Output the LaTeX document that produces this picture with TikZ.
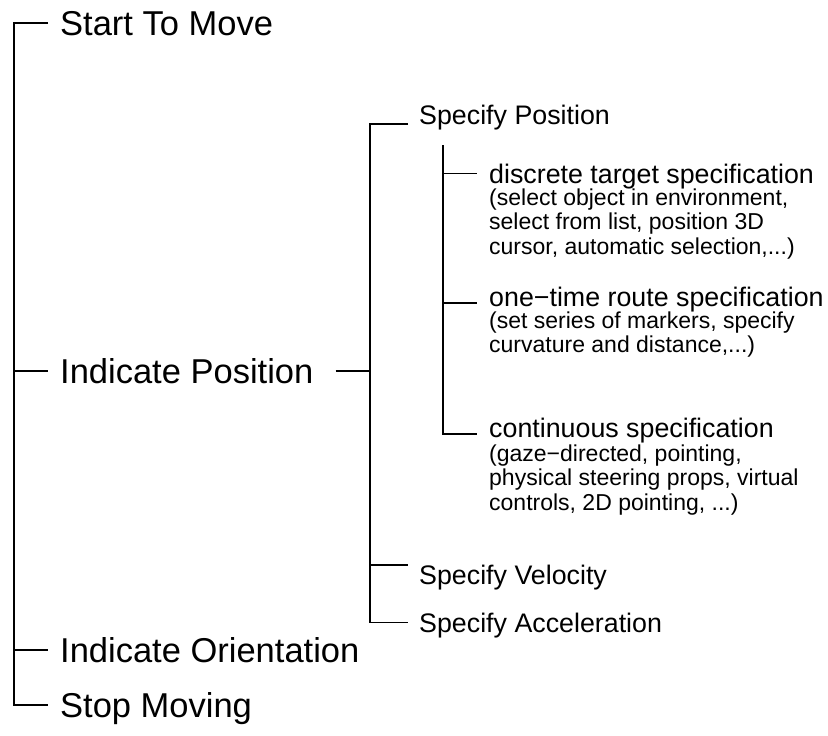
\documentclass[tikz,border=0pt]{standalone}
\usepackage{fontspec}
\setmainfont{Liberation Sans}

\tikzset{
	branch/.style={line width=1.8pt},
	topic/.style={font=\fontsize{34.5}{40}\selectfont, inner xsep=12pt, inner ysep=0pt, text height=24.8pt, text depth=0pt, anchor=base west},
	task/.style={font=\fontsize{26.8}{32}\selectfont, inner xsep=11pt, inner ysep=0pt, text height=19.2pt, text depth=0pt, anchor=base west},
	way/.style={task, inner xsep=12pt},
	note/.style={font=\fontsize{23}{24.6}\selectfont, inner xsep=12pt, inner ysep=0pt, align=left, anchor=north west}
}

\begin{document}
\begin{tikzpicture}[x=1pt,y=-1pt]
	\useasboundingbox (0,0) rectangle (828,736);

	\node[topic] (start) at (48,35) {Start To Move};
	\node[topic] (ipos) at (48,383) {Indicate Position};
	\node[topic] (iori) at (48,662) {Indicate Orientation};
	\node[topic] (stop) at (48,717) {Stop Moving};

	\node[task] (spos) at (408,124) {Specify Position};
	\node[task] (svel) at (408,584) {Specify Velocity};
	\node[task] (sacc) at (408,632) {Specify Acceleration};

	\node[way] (disc) at (477,183) {discrete target specification};
	\node[note] (disc-note) at ([yshift=-5pt]disc.south west) {(select object in environment,\\select from list, position 3D\\cursor, automatic selection,...)};
	\node[way] (once) at (477,306) {one−time route specification};
	\node[note] (once-note) at ([yshift=-5pt]once.south west) {(set series of markers, specify\\curvature and distance,...)};
	\node[way] (cont) at (477,437) {continuous specification};
	\node[note] (cont-note) at ([yshift=-7pt]cont.south west) {(gaze−directed, pointing,\\physical steering props, virtual\\controls, 2D pointing, ...)};

	% main trunk
	\coordinate (trunk) at (14,0);
	\draw[branch] (start.west) -| (trunk |- stop.west) -- (stop.west);
	\draw[branch] (trunk |- ipos.west) -- (ipos.west);
	\draw[branch] (trunk |- iori.west) -- (iori.west);

	% position sub-tree
	\coordinate (fork) at (370,0);
	\draw[branch, shorten <=10pt] (ipos.east) -- (fork |- ipos.east);
	\draw[branch] (spos.base west) -| (fork |- sacc.west) -- (sacc.west);
	\draw[branch] (fork |- svel.north west) -- (svel.north west);

	\coordinate (subtop) at (443,145);
	\draw[branch] (subtop) |- (cont.mid west);
	\draw[branch] (subtop |- disc.west) -- (disc.west);
	\draw[branch] (subtop |- once.mid west) -- (once.mid west);
\end{tikzpicture}
\end{document}
